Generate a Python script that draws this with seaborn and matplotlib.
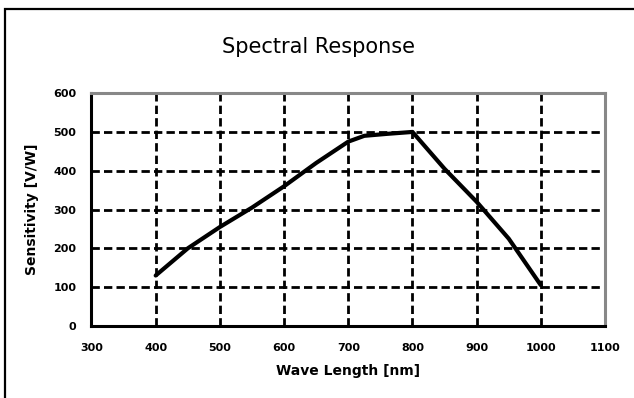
import matplotlib
matplotlib.use("Agg")
import matplotlib.pyplot as plt
import seaborn as sns
import pandas as pd
from matplotlib.patches import Rectangle

wavelength = [400, 450, 500, 550, 600, 650, 700, 725, 760, 800, 850, 900, 950, 1000]
sensitivity = [130, 200, 255, 305, 360, 420, 475, 490, 495, 500, 405, 320, 225, 105]
x_ticks = [300, 400, 500, 600, 700, 800, 900, 1000, 1100]
y_ticks = [0, 100, 200, 300, 400, 500, 600]

df = pd.DataFrame({"Wave Length [nm]": wavelength, "Sensitivity [V/W]": sensitivity})

sns.set_style("white")
plt.rcParams['font.family'] = ['DejaVu Sans']
plt.rcParams['text.color'] = 'black'
plt.rcParams['axes.labelcolor'] = 'black'
plt.rcParams['xtick.color'] = 'black'
plt.rcParams['ytick.color'] = 'black'

fig = plt.figure(figsize=(6.34, 3.98), dpi=100)
ax = fig.add_axes([0.1443, 0.181, 0.810, 0.585])

fig.patches.append(Rectangle((4.5/634, -0.05), 1.2, (398-8.5)/398 + 0.05,
                             transform=fig.transFigure, fill=False,
                             edgecolor='black', linewidth=1.6, zorder=0))

sns.lineplot(data=df, x="Wave Length [nm]", y="Sensitivity [V/W]", ax=ax,
             color='black', linewidth=3, zorder=5)

ax.set_xlim(300, 1100)
ax.set_ylim(0, 600)
ax.set_xticks(x_ticks)
ax.set_yticks(y_ticks)
ax.set_xticklabels([str(v) for v in x_ticks], fontsize=8, fontweight='bold')
ax.set_yticklabels([str(v) for v in y_ticks], fontsize=8, fontweight='bold')
ax.tick_params(axis='x', length=0, pad=12)
ax.tick_params(axis='y', length=0, pad=11)

for v in x_ticks[1:-1]:
    ax.axvline(v, color='black', linewidth=2, linestyle=(0, (3, 1.5)), zorder=2)
for v in y_ticks[1:-1]:
    ax.axhline(v, color='black', linewidth=2, linestyle=(0, (3, 1.5)), zorder=2)

for s in ['left', 'bottom']:
    ax.spines[s].set_color('black')
    ax.spines[s].set_linewidth(2.2)
for s in ['top', 'right']:
    ax.spines[s].set_color('#888888')
    ax.spines[s].set_linewidth(2.2)

ax.set_xlabel("Wave Length [nm]", fontsize=10, fontweight='bold', labelpad=8)
ax.set_ylabel("Sensitivity [V/W]", fontsize=10, fontweight='bold', labelpad=10)
fig.text(318/634, 1 - 47/398, "Spectral Response", fontsize=15, ha='center', va='center')

fig.savefig("out.png", dpi=100)
